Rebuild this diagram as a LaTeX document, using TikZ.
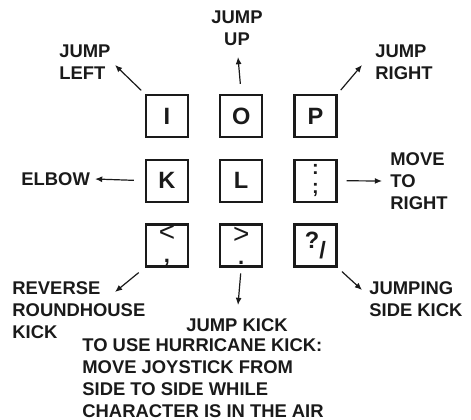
\documentclass[tikz,border=0pt]{standalone}
\usepackage{fontspec}
\setmainfont{Liberation Sans}
\usepackage{tikz}
\usetikzlibrary{arrows.meta,positioning}
\definecolor{InkBlack}{HTML}{1A1A1A}

\begin{document}
\begin{tikzpicture}[
    x=0.5pt, y=-0.5pt,
    font=\fontsize{9.2}{11}\selectfont\bfseries,
    text=InkBlack,
    keybox/.style={draw=InkBlack, line width=1.1pt, minimum size=21pt, inner sep=0pt, font=\fontsize{11.8}{12}\selectfont\bfseries},
    stackkey/.style={keybox, align=center},
    lbl/.style={inner sep=0pt, align=left},
    arr/.style={-{Latex[length=3.6pt,width=3pt]}, line width=0.6pt, draw=InkBlack},
    node distance=10.25pt and 15pt
]
\useasboundingbox (0,0) rectangle (471,419);
% keys
\node[keybox] (i) at (167,116) {I};
\node[keybox, right=of i] (o) {O};
\node[keybox, right=of o] (p) {P};
\node[keybox, below=of i] (k) {K};
\node[keybox, below=of o] (l) {L};
\node[stackkey, below=of p, font=\fontsize{10}{9.6}\selectfont\bfseries] (semi) {:\\;};
\node[stackkey, below=of k, font=\fontsize{14}{10.5}\selectfont] (comma) {<\\\bfseries\fontsize{11}{10.5}\selectfont,};
\node[stackkey, below=of l, font=\fontsize{14}{10.5}\selectfont] (period) {>\\\bfseries\fontsize{11}{10.5}\selectfont.};
\node[keybox, below=of semi] (slash) {?\raisebox{-5pt}{/}};
% labels
\node[lbl, align=center] (ju) at (237,28.5) {JUMP\\UP};
\node[lbl, anchor=west] (jl) at (59,62) {JUMP\\LEFT};
\node[lbl, anchor=west] (jr) at (375,62.5) {JUMP\\RIGHT};
\node[lbl, anchor=west] (el) at (21,179) {ELBOW};
\node[lbl, anchor=west] (mr) at (390,181) {MOVE\\TO\\RIGHT};
\node[lbl, anchor=west] (rk) at (12,310) {REVERSE\\ROUNDHOUSE\\KICK};
\node[lbl, anchor=west] (sk) at (369,299) {JUMPING\\SIDE KICK};
\node[lbl, align=center] (jk) at (237,325) {JUMP KICK};
\node[lbl, anchor=west] (hk) at (82,378.5) {TO USE HURRICANE KICK:\\MOVE JOYSTICK FROM\\SIDE TO SIDE WHILE\\CHARACTER IS IN THE AIR};
% arrow tips
\coordinate (juTip) at (238,57);
\coordinate (jlTip) at (115,65);
\coordinate (jrTip) at (362,65);
\coordinate (elTip) at (95,179);
\coordinate (mrTip) at (382,181);
\coordinate (rkTip) at (115,292);
\coordinate (jkTip) at (238,305);
\coordinate (skTip) at (362,290);
% arrows
\draw[arr, shorten <=5pt] (o.north) -- (juTip);
\draw[arr, shorten <=2.5pt] (i.north west) -- (jlTip);
\draw[arr, shorten <=2.5pt] (p.north east) -- (jrTip);
\draw[arr, shorten <=5.5pt] (k.west) -- (elTip);
\draw[arr, shorten <=4.5pt] (semi.east) -- (mrTip);
\draw[arr, shorten <=4pt] (comma.south west) -- (rkTip);
\draw[arr, shorten <=3pt] (period.south) -- (jkTip);
\draw[arr, shorten <=3pt] (slash.south east) -- (skTip);
\end{tikzpicture}
\end{document}
